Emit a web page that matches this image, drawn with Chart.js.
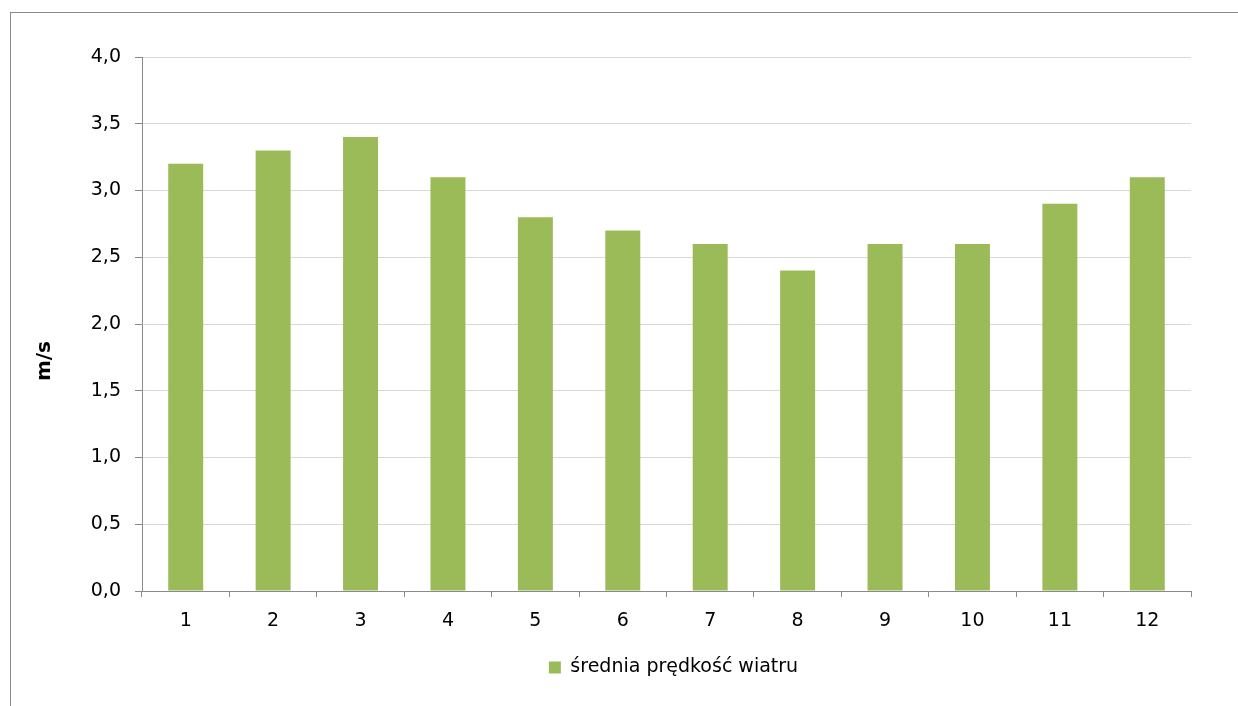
<!DOCTYPE html>
<html>
<head>
<meta charset="utf-8">
<script src="https://cdn.jsdelivr.net/npm/chart.js@4/dist/chart.umd.min.js"></script>
<style>
  html, body { margin: 0; padding: 0; background: #fff; overflow: hidden; }
  #wrap { position: relative; width: 1238px; height: 706px; }
  #frame { position: absolute; left: 10px; top: 12px; width: 1400px; height: 900px;
           border-left: 1px solid #8a8a8a; border-top: 1px solid #8a8a8a; box-sizing: border-box; }
  canvas { position: absolute; left: 0; top: 0; }
</style>
</head>
<body>
<div id="wrap">
  <div id="frame"></div>
  <canvas id="c" width="1238" height="706"></canvas>
</div>
<script>
// Monthly mean wind speed
const months = ['1','2','3','4','5','6','7','8','9','10','11','12'];
const windSpeed = [3.2, 3.3, 3.4, 3.1, 2.8, 2.7, 2.6, 2.4, 2.6, 2.6, 2.9, 3.1];
const seriesName = 'średnia prędkość wiatru';
const axisTitle = 'm/s';

const FONT = 'DejaVu Sans';
const comma = v => v.toFixed(1).replace('.', ',');

// Rotated unit label left of the value axis
const unitLabel = {
  id: 'unitLabel',
  afterDraw(chart) {
    const ctx = chart.ctx;
    ctx.save();
    ctx.translate(45, 361);
    ctx.rotate(-Math.PI / 2);
    ctx.font = 'bold 20px "' + FONT + '"';
    ctx.fillStyle = '#000';
    ctx.textAlign = 'center';
    ctx.textBaseline = 'middle';
    ctx.fillText(axisTitle, 0, 0);
    ctx.restore();
  }
};

// Nudge the legend block to the right of the plot centre
const legendShift = {
  id: 'legendShift',
  afterLayout(chart) {
    const lg = chart.legend;
    if (!lg) return;
    const dx = 78;
    lg.left += dx;
    lg.right += dx;
    (lg.legendHitBoxes || []).forEach(b => { b.left += dx; });
  }
};

new Chart(document.getElementById('c'), {
  type: 'bar',
  data: {
    labels: months,
    datasets: [{
      label: seriesName,
      data: windSpeed,
      backgroundColor: '#9bbb59',
      borderWidth: 0,
      barPercentage: 0.4,
      categoryPercentage: 1.0
    }]
  },
  options: {
    responsive: false,
    animation: false,
    devicePixelRatio: 1,
    layout: { padding: { left: 0, right: 47, top: 57, bottom: 19 } },
    plugins: {
      tooltip: { enabled: false },
      legend: {
        position: 'bottom',
        labels: {
          boxWidth: 12, boxHeight: 12, padding: 10,
          color: '#000',
          font: { family: FONT, size: 19 }
        }
      }
    },
    scales: {
      x: {
        grid: {
          display: true, drawOnChartArea: false, offset: true,
          tickColor: '#8a8a8a', tickLength: 6, lineWidth: 1
        },
        border: { color: '#8a8a8a', width: 1 },
        ticks: { color: '#000', padding: 13, maxRotation: 0, font: { family: FONT, size: 19 } },
        afterFit: s => { s.height = 57; }
      },
      y: {
        min: 0, max: 4,
        grid: { color: '#d9d9d9', tickColor: '#8a8a8a', tickLength: 7, lineWidth: 1 },
        border: { color: '#8a8a8a', width: 1 },
        ticks: {
          stepSize: 0.5, color: '#000', padding: 14,
          font: { family: FONT, size: 19 },
          callback: v => comma(v)
        },
        afterFit: s => { s.width = 142; }
      }
    }
  },
  plugins: [unitLabel, legendShift]
});
</script>
</body>
</html>
